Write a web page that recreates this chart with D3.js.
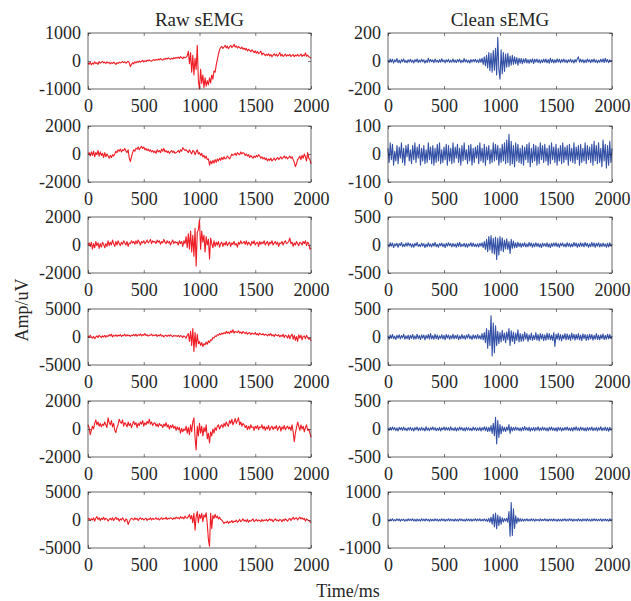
<!DOCTYPE html>
<html><head><meta charset="utf-8">
<script src="https://cdn.jsdelivr.net/npm/d3@7"></script>
<style>
body{margin:0;background:#fff}
text{font-family:"Liberation Serif","Times New Roman",serif;fill:#262626}
</style>
</head><body>
<svg id="chart" width="631" height="601"></svg>
<script>
// ---- data (sampled every 10 ms, 0..2000 ms) ----
const timeTicks = [0, 500, 1000, 1500, 2000];
const rawYTicks = [[-1000,0,1000],[-2000,0,2000],[-2000,0,2000],[-5000,0,5000],[-2000,0,2000],[-5000,0,5000]];
const cleanYTicks = [[-200,0,200],[-100,0,100],[-500,0,500],[-500,0,500],[-500,0,500],[-1000,0,1000]];
const titles = ["Raw sEMG", "Clean sEMG"];
const yLabel = "Amp/uV";
const xLabel = "Time/ms";

const raw1 = [
-60,-120,-40,-140,-70,-110,-30,-90,-60,-120,-20,-80,-50,-10,-70,-40,-90,-30,-70,-50,
-100,-60,-90,-40,-80,-120,-60,-90,-40,-70,-50,-20,-60,-30,-80,-40,-10,-60,-200,-120,
-60,-100,-30,-70,-20,-50,0,-40,-10,20,-30,10,-20,30,0,40,10,-10,30,50,
20,60,30,70,40,90,50,30,80,60,100,70,110,80,60,100,70,120,90,130,
100,140,90,160,120,80,150,110,140,180,350,-100,300,-400,200,-500,100,-300,560,-700,
-1000,-300,-800,-500,-950,-600,-900,-700,-850,-600,-780,-500,-650,-350,-400,-150,50,250,400,480,
520,450,500,560,470,530,440,510,560,480,520,600,500,540,460,520,480,440,500,420,
460,400,450,360,420,380,330,400,350,300,360,280,340,260,300,350,220,280,250,190,
240,200,260,180,230,150,210,260,190,240,170,220,300,180,240,160,200,250,170,220,
190,240,160,200,230,150,210,180,240,170,200,250,160,220,180,290,170,210,150,130,
100];
const clean1 = [
5,-10,15,-8,12,-15,8,-5,18,-12,6,-14,10,-6,15,-10,4,-12,9,-7,
12,-9,6,-14,10,-5,14,-11,7,-8,13,-6,9,-15,5,-10,20,-8,11,-6,
8,-12,14,-7,5,-11,10,-9,16,-5,7,-13,9,-6,12,-10,6,-8,15,-9,
7,-11,10,-6,13,-12,5,-9,18,-7,9,-10,6,-14,11,-8,10,-6,12,-9,
8,-12,15,-10,20,-25,30,-35,40,-50,60,-70,55,-80,75,-65,90,-100,170,-60,
-130,80,-90,60,-75,50,-45,55,-40,35,-30,40,-25,30,-20,25,-30,20,-15,18,
-20,15,-12,18,-14,10,-16,12,-10,15,-18,13,-8,14,-12,10,-15,8,-11,13,
-9,14,-13,10,-16,20,-10,12,-14,9,-11,15,-8,12,-13,10,-7,14,-10,8,
-12,9,-6,13,-10,8,-14,11,-7,15,30,-9,12,-8,10,-13,7,-11,14,-6,
9,-12,11,-7,14,-10,8,-13,6,-9,12,-8,15,-11,20,-7,10,-12,8,-5,
6];
const raw2 = [
0,100,-150,150,-100,200,-200,100,-50,250,-150,150,-100,50,-250,100,-200,0,-150,-300,
-100,-250,-50,-150,0,200,100,300,200,350,150,300,250,400,200,100,300,-300,-550,-200,
100,300,200,400,350,500,300,450,550,400,500,300,400,250,350,200,300,150,250,100,
200,50,300,150,250,100,350,200,400,150,250,100,200,50,150,250,100,200,50,100,
150,250,100,300,200,450,350,250,300,200,100,300,150,0,250,200,-50,150,300,0,
100,-100,50,-200,-100,-300,-150,-400,-350,-800,-500,-700,-450,-650,-400,-600,-350,-500,-300,-450,
-250,-400,-200,-350,-300,-150,-250,-350,-200,0,-100,-50,50,-100,100,0,-50,150,0,100,
50,-100,0,-150,-50,-250,-100,-200,-300,-150,-250,-100,-200,-50,-150,-300,-200,-350,-250,-400,
-300,-500,-350,-450,-300,-500,-400,-300,-450,-350,-250,-400,-300,-200,-350,-250,-150,-300,-200,-350,
-250,-150,-300,-200,-400,-600,-900,-700,-400,-300,-150,-400,-100,-300,0,-200,-500,100,-300,-400,
-700];
const clean2 = [
20,-30,40,-20,35,-40,10,-25,30,-35,25,-15,40,-30,20,-40,30,-10,35,-25,
15,-35,30,-20,40,-30,25,-15,35,-40,20,-25,30,-35,15,-30,40,-20,25,-35,
30,-40,20,-30,35,-25,40,-35,15,-30,25,-20,35,-40,30,-25,20,-35,40,-30,
25,-15,35,-30,20,-40,30,-25,40,-20,15,-35,30,-25,35,-40,20,-30,25,-15,
30,-35,40,-25,20,-30,35,-40,25,-20,30,-35,15,-30,40,-25,35,-20,30,-40,
20,-30,35,-25,40,-35,50,-30,70,-40,45,-35,30,-45,40,-25,35,-30,20,-35,
30,-40,25,-20,35,-30,40,-45,20,-30,35,-25,30,-40,25,-35,40,-20,30,-30,
35,-25,20,-40,30,-35,40,-20,25,-30,35,-40,20,-25,30,-35,40,-30,25,-20,
30,-40,35,-25,20,-30,40,-35,25,-20,30,-40,35,-30,20,-25,40,-35,30,-20,
25,-30,35,-40,45,-25,30,-35,40,-30,20,-45,50,-25,35,-50,30,-40,45,-30,
20];
const raw3 = [
0,150,-100,200,-300,100,-200,250,-50,150,-250,100,-150,200,50,-200,100,-100,300,-50,
200,0,350,100,-100,250,0,300,100,-50,200,50,300,150,0,250,-100,150,100,300,
150,250,50,300,100,350,200,0,250,150,300,100,200,350,150,250,400,100,300,200,
250,100,350,200,300,50,250,150,400,200,100,300,150,250,0,200,350,100,250,150,
200,0,300,100,250,-100,300,100,600,-200,800,-300,1000,-500,700,-800,1200,-1500,900,1100,
1800,-300,1000,200,700,-500,600,0,400,-1000,500,100,-200,300,-100,200,0,250,-150,100,
200,-100,150,0,250,-50,100,200,-100,150,50,250,0,100,-150,200,50,300,100,150,
250,50,300,0,200,100,-50,250,100,300,0,150,200,-100,250,50,200,100,300,0,
150,250,-50,200,100,300,0,150,250,50,200,-100,150,100,250,0,200,300,100,150,
250,500,100,200,-100,150,0,250,100,-50,200,150,0,250,100,300,-50,200,100,-300,
-200];
const clean3 = [
10,-30,40,-20,35,-45,20,-15,30,-40,25,-10,45,-30,15,-25,35,-20,40,-15,
25,-35,20,-40,30,-15,45,-25,10,-30,35,-20,25,-45,15,-30,40,-25,20,-35,
30,-20,45,-30,15,-40,25,-15,35,-30,20,-45,30,-20,40,-15,25,-35,30,-25,
20,-40,35,-25,45,-30,15,-20,30,-35,25,-40,20,-15,40,-30,35,-25,15,-30,
25,-35,30,-20,40,-45,60,-80,100,-120,150,-90,170,-140,120,-160,140,-260,120,-180,
150,-100,130,-120,90,-70,110,-80,60,-150,100,-60,70,-50,40,-45,50,-30,35,-40,
30,-25,40,-35,20,-30,45,-20,35,-40,25,-30,40,-25,30,-35,20,-45,35,-20,
25,-30,40,-35,20,-45,30,-25,35,-20,40,-30,25,-40,30,-15,35,-30,20,-35,
40,-25,30,-35,20,-30,45,-20,35,-40,25,-30,40,-25,30,-35,45,-20,30,-40,
20,-30,45,-25,35,-40,30,-20,40,-35,25,-30,35,-25,20,-40,30,-35,40,-20,
15];
const raw4 = [
200,-100,300,0,-200,100,-300,0,200,-100,300,100,-100,200,0,300,-50,250,100,400,
200,500,0,300,150,400,100,350,200,450,100,300,250,500,150,400,200,350,100,300,
250,450,200,500,150,400,300,550,200,450,300,600,250,400,150,350,300,500,200,350,
250,450,100,350,200,500,150,300,0,250,300,100,350,150,400,200,50,300,150,250,
100,300,0,250,150,-100,200,50,-200,300,600,-800,1000,-1500,1500,-2600,800,-1800,500,-1200,
-800,-1500,-1000,-1700,-1200,-1400,-900,-1300,-700,-1000,-500,-600,-100,-200,200,100,400,300,600,400,
700,500,800,600,1000,700,900,600,1100,800,1300,700,1000,900,800,1100,700,900,600,1000,
800,600,900,500,700,800,400,700,600,500,800,400,600,300,700,500,400,600,300,500,
400,200,500,300,600,200,400,100,500,300,200,400,0,300,100,500,-100,300,200,-200,
400,-300,200,500,-400,300,-600,100,-800,400,-200,300,-500,100,200,-300,300,-100,-400,-200,
-700];
const clean4 = [
20,-40,35,-25,45,-30,15,-45,30,-20,40,-35,25,-15,50,-40,20,-30,35,-45,
30,-25,45,-40,20,-35,50,-30,25,-45,40,-20,35,-50,30,-25,45,-40,60,-35,
25,-40,50,-30,35,-45,20,-25,40,-35,30,-50,45,-20,35,-40,25,-30,50,-35,
30,-25,40,-45,20,-35,45,-30,25,-40,35,-20,50,-30,20,-45,40,-25,30,-35,
45,-30,25,-40,60,-50,80,-100,150,-200,120,-150,380,-340,250,-280,200,-150,100,-120,
80,-90,120,-60,70,-100,90,-50,150,-150,110,-80,90,-120,70,-60,130,-90,60,-80,
50,-70,90,-40,60,-80,40,-50,70,-60,30,-45,80,-55,45,-70,60,-40,50,-65,
40,-55,70,-45,60,-50,35,-60,80,-170,50,-40,65,-55,45,-70,40,-35,60,-50,
55,-45,40,-60,70,-35,50,-55,45,-40,60,-50,35,-65,55,-30,45,-60,40,-50,
50,-35,45,-55,30,-40,60,-45,35,-50,40,-30,55,-45,30,-40,50,-35,45,-30,
20];
const raw5 = [
300,100,-400,-100,200,0,400,650,300,500,200,400,150,350,250,500,300,100,800,450,
300,600,150,400,-100,-250,100,300,700,500,400,650,200,450,350,150,500,250,400,100,
350,550,300,450,100,400,250,500,350,600,200,450,300,550,400,700,350,500,250,400,
450,200,350,150,400,250,300,100,350,200,450,150,300,0,250,100,300,50,200,-100,
150,-50,100,-300,50,-200,0,-100,200,-300,100,-400,300,-200,500,800,-600,-1500,200,-500,
400,-300,200,-500,100,-200,300,-700,-300,-1000,-200,-500,0,-300,100,-100,200,300,0,200,
300,100,400,200,500,300,200,600,400,700,300,500,750,400,600,800,300,500,200,400,
300,100,250,-50,200,0,300,100,150,-100,200,50,250,-50,150,100,300,0,200,-100,
150,0,250,-100,100,200,-50,150,50,250,-100,100,200,-150,150,0,250,-50,100,200,
0,150,-100,300,-200,-900,-300,100,500,200,-100,300,0,200,-200,100,300,-100,0,-300,
-600];
const clean5 = [
15,-25,30,-20,35,-15,25,-30,20,-35,30,-15,25,-25,35,-20,15,-30,25,-20,
30,-25,20,-35,25,-15,35,-30,20,-25,30,-20,15,-35,40,-25,20,-30,25,-15,
35,-20,25,-30,15,-25,30,-35,20,-15,35,-25,30,-20,25,-30,40,-20,15,-25,
30,-35,20,-25,35,-15,25,-30,20,-35,30,-20,25,-25,15,-30,35,-20,25,-30,
20,-25,30,-35,25,-20,40,-30,35,-45,30,-40,60,-80,100,-120,210,-265,150,-150,
80,-90,50,-40,30,-45,35,-25,80,-80,40,-35,30,-25,35,-20,25,-30,20,-35,
30,-25,45,-20,25,-30,35,-40,20,-25,30,-35,25,-20,40,-30,20,-25,35,-20,
25,-30,20,-35,30,-20,35,-25,20,-30,25,-40,30,-20,25,-35,20,-25,30,-20,
35,-25,20,-30,25,-35,30,-20,40,-25,20,-30,35,-20,25,-30,20,-35,30,-25,
25,-20,35,-30,20,-25,30,-35,25,-20,40,-30,20,-25,35,-30,25,-40,30,-20,
10];
const raw6 = [
100,300,-100,200,0,400,-200,300,600,100,400,-100,300,100,500,0,300,200,-200,100,
300,0,400,-100,200,500,100,300,-200,200,0,400,100,-300,200,0,-800,-300,100,300,
200,0,400,100,300,-100,200,400,100,300,0,200,300,-100,200,100,400,0,300,100,
200,400,100,300,0,200,400,100,300,200,500,100,300,200,400,300,100,400,200,500,
300,400,200,600,300,500,200,700,400,300,600,1000,200,800,-500,1200,-1800,600,1500,-500,
1000,300,1200,-300,900,500,1300,-800,-3500,-4700,1200,-1500,800,300,1000,400,700,200,500,100,
0,-300,-600,-400,-500,-200,-600,-300,-400,-100,-500,-200,-300,0,-400,-200,100,-300,-100,200,
-200,0,-300,100,-400,-100,-200,0,200,-300,-100,100,-200,0,-100,-300,100,-200,0,-100,
100,-200,0,200,-100,100,-300,0,200,-100,0,-200,100,0,-300,100,-100,200,0,-200,
100,300,-100,200,500,100,300,400,0,300,500,200,400,100,300,-200,200,0,-100,-300,
-500];
const clean6 = [
20,-40,30,-25,45,-35,15,-30,40,-20,35,-45,25,-15,30,-40,20,-35,45,-25,
30,-20,40,-35,25,-45,35,-30,20,-40,45,-25,30,-35,40,-20,25,-45,35,-30,
20,-35,45,-25,30,-40,20,-30,40,-25,35,-45,25,-20,40,-35,30,-25,20,-40,
35,-30,25,-40,45,-20,30,-35,20,-45,40,-25,30,-30,35,-40,25,-20,45,-35,
30,-25,40,-35,20,-30,45,-40,30,-50,60,-80,100,-150,200,-250,250,-310,180,-200,
120,-150,80,-70,50,-40,60,-80,300,-580,620,-550,400,-300,150,-120,80,-60,50,-45,
35,-40,30,-25,45,-35,20,-30,40,-25,35,-45,30,-20,25,-35,40,-30,20,-25,
45,-30,25,-40,35,-20,30,-35,40,-25,20,-45,35,-30,25,-40,30,-20,45,-35,
25,-30,40,-20,35,-45,30,-25,20,-35,45,-30,25,-40,35,-20,30,-35,40,-25,
20,-40,35,-30,45,-25,30,-35,25,-20,40,-45,30,-25,35,-30,20,-40,45,-30,
25];

const rawSeries = [raw1, raw2, raw3, raw4, raw5, raw6];
const cleanSeries = [clean1, clean2, clean3, clean4, clean5, clean6];

// ---- layout ----
const svg = d3.select("#chart");
const colX = [88, 388], colW = [223, 224];
const rowTop = [33, 126, 217, 309, 401, 492], rowH = 56;
const colors = ["#ee1c24", "#3451a6"];
const axisColor = "#262626";
const fs = 18;
const fmt = d => String(d);

function panel(col, row, data, yTicks) {
  const x0 = colX[col], w = colW[col], y0 = rowTop[row];
  const x = d3.scaleLinear().domain([0, 2000]).range([x0, x0 + w]);
  const y = d3.scaleLinear().domain([yTicks[0], yTicks[2]]).range([y0 + rowH, y0]);
  const g = svg.append("g");
  const n = data.length;
  const line = d3.line().x((d, i) => x(i * 2000 / (n - 1))).y(d => y(d));
  g.append("path").datum(data).attr("d", line)
    .attr("fill", "none").attr("stroke", colors[col]).attr("stroke-width", 1.1)
    .attr("stroke-linejoin", "round");

  const style = sel => {
    sel.select(".domain").remove();
    sel.selectAll(".tick line").attr("stroke", axisColor).attr("stroke-width", 0.6);
    sel.selectAll(".tick text").attr("fill", axisColor).style("font-size", fs + "px")
      .style("font-family", '"Liberation Serif","Times New Roman",serif');
  };
  g.append("g").attr("transform", `translate(0,${y0 + rowH})`)
    .call(d3.axisBottom(x).tickValues(timeTicks).tickFormat(fmt).tickSizeInner(-3).tickSizeOuter(0).tickPadding(10))
    .call(style);
  g.append("g").attr("transform", `translate(0,${y0})`)
    .call(d3.axisTop(x).tickValues(timeTicks).tickSizeInner(-3).tickSizeOuter(0).tickFormat(""))
    .call(style);
  g.append("g").attr("transform", `translate(${x0},0)`)
    .call(d3.axisLeft(y).tickValues(yTicks).tickFormat(fmt).tickSizeInner(-3).tickSizeOuter(0).tickPadding(7))
    .call(style);
  g.append("g").attr("transform", `translate(${x0 + w},0)`)
    .call(d3.axisRight(y).tickValues(yTicks).tickSizeInner(-3).tickSizeOuter(0).tickFormat(""))
    .call(style);
  g.append("rect").attr("x", x0).attr("y", y0).attr("width", w).attr("height", rowH)
    .attr("fill", "none").attr("stroke", axisColor).attr("stroke-width", 0.7);
}

for (let r = 0; r < 6; r++) {
  panel(0, r, rawSeries[r], rawYTicks[r]);
  panel(1, r, cleanSeries[r], cleanYTicks[r]);
}

svg.append("text").attr("x", colX[0] + colW[0] / 2).attr("y", 26).attr("text-anchor", "middle")
  .style("font-size", "19px").text(titles[0]);
svg.append("text").attr("x", colX[1] + colW[1] / 2).attr("y", 26).attr("text-anchor", "middle")
  .style("font-size", "19px").text(titles[1]);
svg.append("text").attr("transform", "translate(28,310) rotate(-90)").attr("text-anchor", "middle")
  .style("font-size", "18px").text(yLabel);
svg.append("text").attr("x", 348).attr("y", 597).attr("text-anchor", "middle")
  .style("font-size", "18px").text(xLabel);
</script>
</body></html>
